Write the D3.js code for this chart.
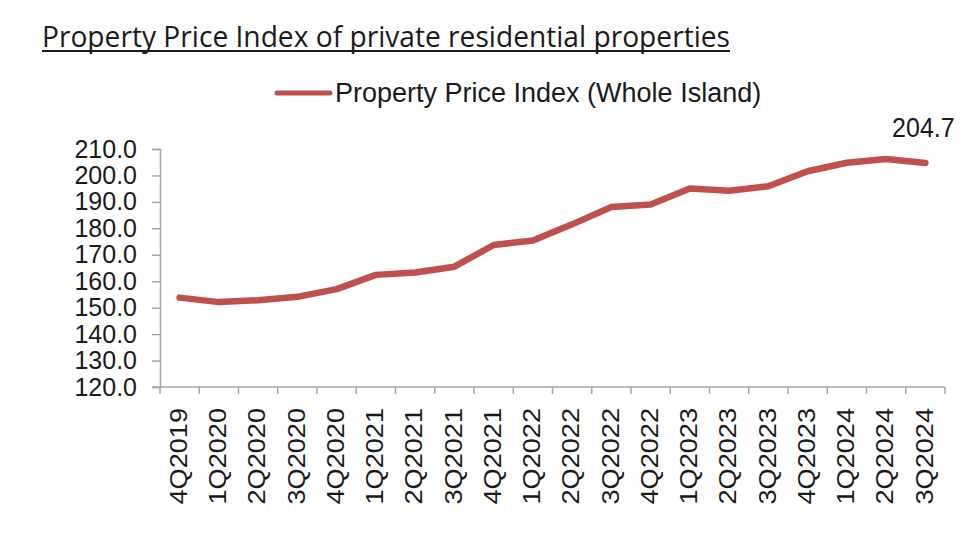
<!DOCTYPE html>
<html>
<head>
<meta charset="utf-8">
<script src="https://cdn.jsdelivr.net/npm/d3@7/dist/d3.min.js"></script>
<style>
  html, body { margin: 0; padding: 0; background: #fff; }
  svg { display: block; }
</style>
</head>
<body>
<svg id="chart" width="960" height="540"></svg>
<script>
const categories = ["4Q2019","1Q2020","2Q2020","3Q2020","4Q2020","1Q2021","2Q2021","3Q2021","4Q2021","1Q2022","2Q2022","3Q2022","4Q2022","1Q2023","2Q2023","3Q2023","4Q2023","1Q2024","2Q2024","3Q2024"];
const ppiValues = [153.8,152.1,152.8,154.1,157.0,162.4,163.3,165.5,173.7,175.4,181.5,188.1,189.0,195.1,194.2,195.9,201.6,204.8,206.2,204.7];
const yTicks = [120,130,140,150,160,170,180,190,200,210];
const titleText = "Property Price Index of private residential properties";
const seriesName = "Property Price Index (Whole Island)";
const lastLabel = "204.7";

const svg = d3.select("#chart");
const lineColor = "#c0504d";
const axisColor = "#a6a6a6";

const x = d3.scaleBand().domain(categories).range([160, 945]).paddingInner(0).paddingOuter(0);
const y = d3.scaleLinear().domain([120, 210]).range([387, 149]);

// Title
svg.append("text")
  .attr("x", 42).attr("y", 47)
  .attr("font-family", "'Open Sans', 'Noto Sans', sans-serif")
  .attr("font-size", 29)
  .attr("fill", "#1a1a1a")
  .attr("textLength", 688)
  .attr("lengthAdjust", "spacingAndGlyphs")
  .text(titleText);
svg.append("line")
  .attr("x1", 42).attr("x2", 730).attr("y1", 51).attr("y2", 51)
  .attr("stroke", "#1a1a1a").attr("stroke-width", 2);

// Legend
svg.append("line")
  .attr("x1", 277).attr("x2", 330).attr("y1", 93).attr("y2", 93)
  .attr("stroke", lineColor).attr("stroke-width", 5).attr("stroke-linecap", "round");
svg.append("text")
  .attr("x", 335).attr("y", 102)
  .attr("font-family", "'Liberation Sans', Arial, sans-serif")
  .attr("font-size", 27)
  .attr("fill", "#1a1a1a")
  .text(seriesName);

// Y axis
const yAxis = d3.axisLeft(y).tickValues(yTicks).tickFormat(d3.format(".1f")).tickSize(8).tickPadding(15);
const gy = svg.append("g").attr("transform", "translate(160,0)").call(yAxis);
gy.select(".domain").attr("stroke", axisColor).attr("stroke-width", 1.5);
gy.selectAll(".tick line").attr("stroke", axisColor).attr("stroke-width", 1.5);
gy.selectAll(".tick text")
  .attr("font-family", "'Liberation Sans', Arial, sans-serif")
  .attr("font-size", 25)
  .attr("fill", "#1a1a1a");

// X axis line
const xr = x.range();
svg.append("line")
  .attr("x1", 152).attr("x2", xr[1]).attr("y1", y(120)).attr("y2", y(120))
  .attr("stroke", axisColor).attr("stroke-width", 1.5);
// ticks at band edges
const edges = categories.map(c => x(c)).concat([x(categories[categories.length-1]) + x.bandwidth()]);
svg.append("g").selectAll("line").data(edges).join("line")
  .attr("x1", d => d).attr("x2", d => d)
  .attr("y1", y(120)).attr("y2", y(120) + 7)
  .attr("stroke", axisColor).attr("stroke-width", 1.5);
// x labels
svg.append("g").selectAll("text").data(categories).join("text")
  .attr("transform", d => `translate(${x(d) + x.bandwidth()/2 - 1},${y(120) + 21}) scale(1,1.18) rotate(-90)`)
  .attr("text-anchor", "end")
  .attr("dy", "0.36em")
  .attr("font-family", "'Liberation Sans', Arial, sans-serif")
  .attr("font-size", 23)
  .attr("fill", "#1a1a1a")
  .text(d => d);

// Line
const line = d3.line()
  .x((d, i) => x(categories[i]) + x.bandwidth()/2)
  .y(d => y(d));
svg.append("path")
  .datum(ppiValues)
  .attr("d", line)
  .attr("fill", "none")
  .attr("stroke", lineColor)
  .attr("stroke-width", 6.5)
  .attr("stroke-linecap", "round")
  .attr("stroke-linejoin", "round");

// Last value label
const li = categories.length - 1;
svg.append("text")
  .attr("transform", `translate(${x(categories[li]) + x.bandwidth()/2 - 2},${y(ppiValues[li]) - 26}) scale(1,1.12)`)
  .attr("text-anchor", "middle")
  .attr("font-family", "'Liberation Sans', Arial, sans-serif")
  .attr("font-size", 25)
  .attr("fill", "#1a1a1a")
  .text(lastLabel);
</script>
</body>
</html>
